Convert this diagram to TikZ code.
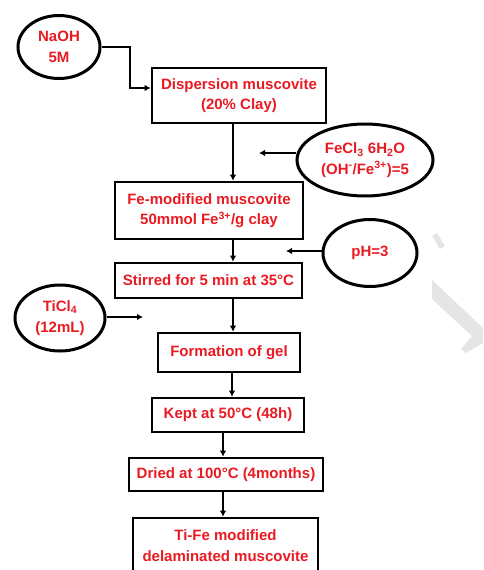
\documentclass[tikz,border=0pt]{standalone}
\usepackage{fontspec}
\setmainfont{Liberation Sans}
\usetikzlibrary{arrows.meta,shapes.geometric}
\definecolor{txtred}{RGB}{232,26,34}
\begin{document}
\begin{tikzpicture}[x=1pt,y=-1pt,
  every node/.style={font=\fontsize{15}{20.5}\selectfont\bfseries, text=txtred, align=center, inner sep=0pt},
  stepbox/.style={draw=black, line width=2.6pt, rectangle},
  reagent/.style={draw=black, line width=3pt, ellipse},
  arr/.style={draw=black, line width=2.2pt, -{Latex[length=6pt,width=6.5pt]}}]
\useasboundingbox (0,0) rectangle (483,570);
\clip (0,0) rectangle (483,570);
% watermark fragment
\fill[gray!20] (432,236) -- (437,233) -- (445,246) -- (440,249) -- cycle;
\fill[gray!20] (432,280) -- (483,328) -- (483,343) -- (466,353) -- (461,349) -- (472,336) -- (432,299) -- cycle;
% process steps
\node[stepbox, minimum width=174pt, minimum height=55pt] (disp) at (239,95.5) {Dispersion muscovite\\(20\% Clay)};
\node[stepbox, minimum width=188pt, minimum height=57pt] (femod) at (209,210.5) {Fe-modified muscovite\\50mmol Fe\textsuperscript{3+}/g clay};
\node[stepbox, minimum width=187pt, minimum height=35pt] (stir) at (208.5,280.5) {Stirred for 5 min at 35°C};
\node[stepbox, minimum width=142pt, minimum height=39pt] (gel) at (229,352.5) {Formation of gel};
\node[stepbox, minimum width=152pt, minimum height=34pt] (kept) at (228,415) {Kept at 50°C (48h)};
\node[stepbox, minimum width=194pt, minimum height=33pt] (dried) at (226,474.5) {Dried at 100°C (4months)};
\node[stepbox, minimum width=185pt, minimum height=55pt] (final) at (225.5,545.5) {Ti-Fe modified\\delaminated muscovite};
% reagents
\node[reagent, minimum width=82pt, minimum height=63pt] (naoh) at (59,47) {NaOH\\5M};
\node[reagent, minimum width=136pt, minimum height=72pt] (fecl) at (365,160) {FeCl\textsubscript{3} 6H\textsubscript{2}O\\(OH\textsuperscript{-}/Fe\textsuperscript{3+})=5};
\node[reagent, minimum width=94pt, minimum height=67pt] (ph) at (370,253) {pH=3};
\node[reagent, minimum width=90pt, minimum height=66pt] (ticl) at (60,318) {TiCl\textsubscript{4}\\(12mL)};
% helper coordinates
\coordinate (xa) at (233,0);
\coordinate (xb) at (232,0);
\coordinate (xc) at (223,0);
\coordinate (nbend) at (130,88);
\coordinate (fend) at (259,153);
\coordinate (fy) at (0,153);
\coordinate (pend) at (286,251);
\coordinate (py) at (0,251);
\coordinate (tend) at (143,317);
\coordinate (ty) at (0,317);
% main flow
\draw[arr] (disp.south -| xa) -- (femod.north -| xa);
\draw[arr] (femod.south -| xa) -- (stir.north -| xa);
\draw[arr] (stir.south -| xa) -- (gel.north -| xa);
\draw[arr] (gel.south -| xb) -- (kept.north -| xb);
\draw[arr] (kept.south -| xc) -- (dried.north -| xc);
\draw[arr] (dried.south -| xc) -- (final.north -| xc);
% reagent inputs
\draw[arr] (naoh.east) -| (nbend) -- (disp.west |- nbend);
\draw[arr] (fecl.west |- fy) -- (fend);
\draw[arr] (ph.west |- py) -- (pend);
\draw[arr] (ticl.east |- ty) -- (tend);
\end{tikzpicture}
\end{document}
